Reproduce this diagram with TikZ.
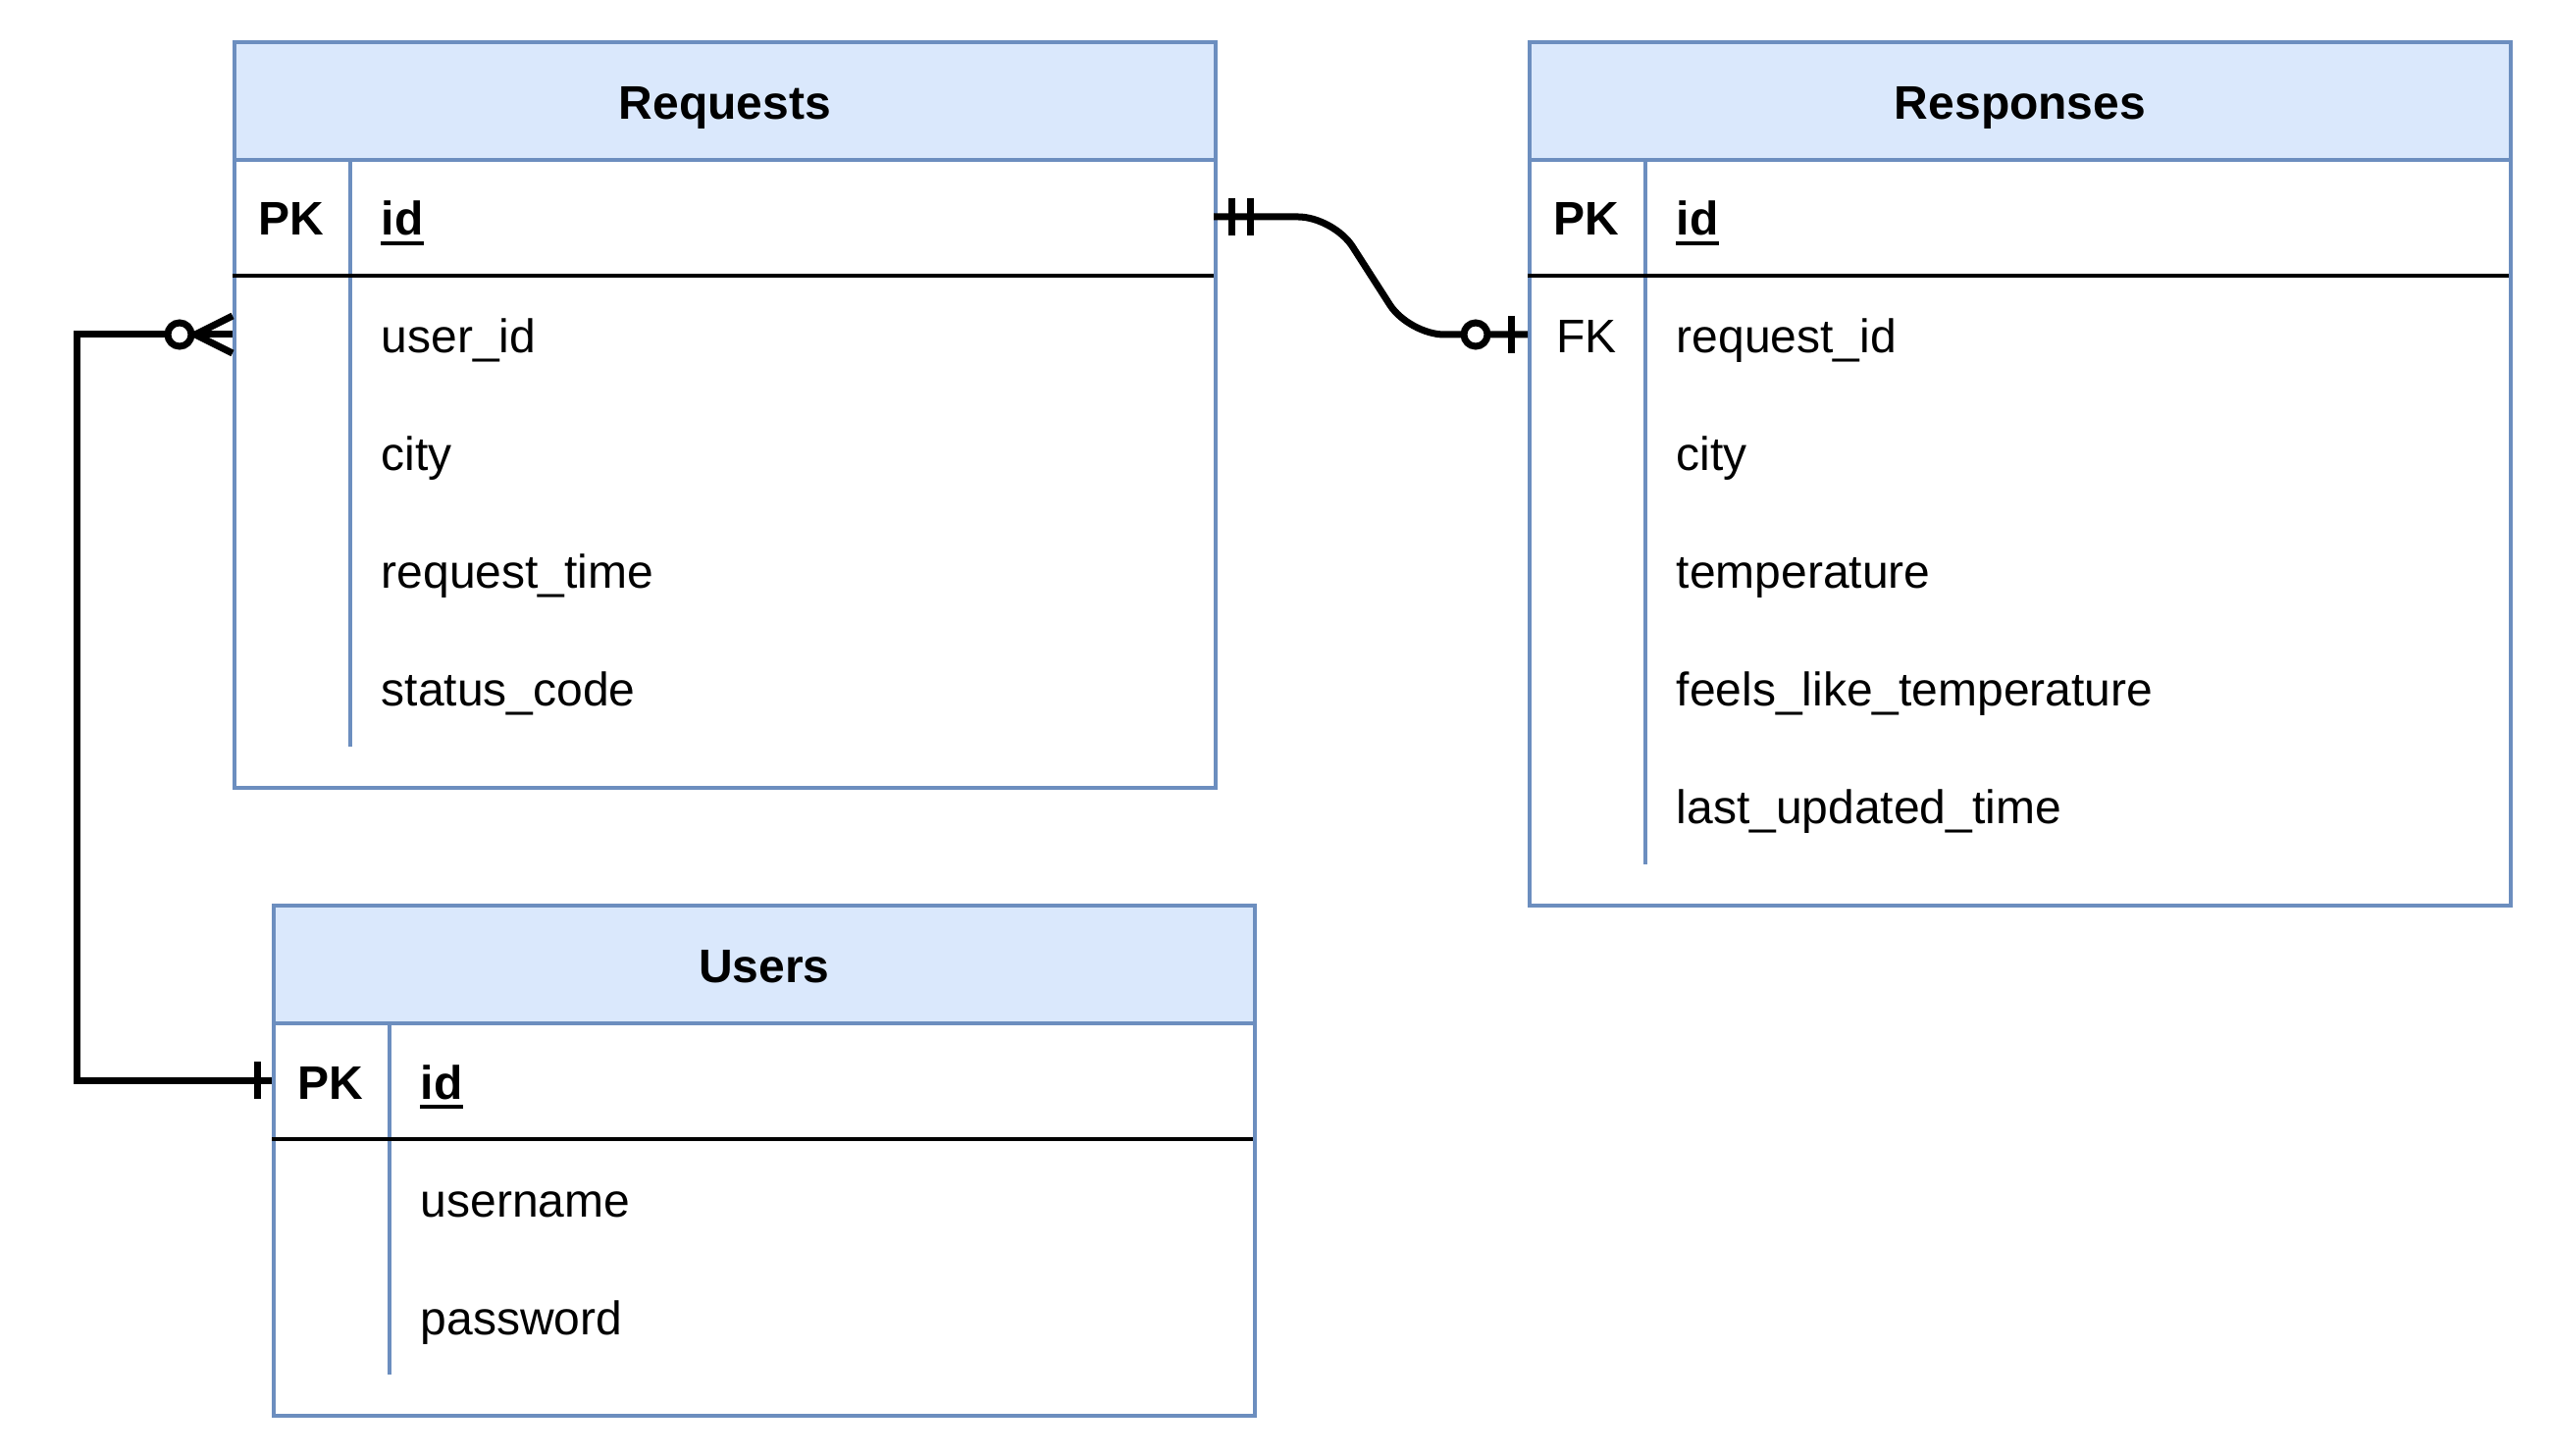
\documentclass[tikz,border=0pt]{standalone}
\usepackage{fontspec}
\setmainfont{Liberation Sans}
\usetikzlibrary{calc}
\definecolor{hdrfill}{HTML}{DAE8FC}
\definecolor{hdrline}{HTML}{6C8EBF}
\begin{document}
\begin{tikzpicture}[x=0.25pt,y=-0.25pt,
  tbl/.style={draw=hdrline, line width=1pt, anchor=north west, minimum width=250pt, inner sep=0pt},
  hdr/.style={draw=hdrline, fill=hdrfill, line width=1pt, anchor=north west, minimum width=250pt, minimum height=30pt, inner sep=0pt, text height=9.5pt, text depth=0pt, font=\bfseries\fontsize{12pt}{14pt}\selectfont},
  rowbox/.style={anchor=north west, minimum width=250pt, minimum height=30pt, inner sep=0pt, outer sep=0pt},
  keytxt/.style={anchor=base, inner sep=0pt, font=\fontsize{12pt}{14pt}\selectfont},
  pktxt/.style={keytxt, font=\bfseries\fontsize{12pt}{14pt}\selectfont},
  fldtxt/.style={anchor=base west, inner sep=0pt, font=\fontsize{12pt}{14pt}\selectfont},
  pkfld/.style={fldtxt, font=\bfseries\fontsize{12pt}{14pt}\selectfont},
  uline/.style={draw=black, line width=1pt},
  divider/.style={draw=hdrline, line width=0.8pt},
  sepline/.style={draw=black, line width=1.1pt},
  conn/.style={draw=black, line width=1.75pt},
  endbar/.style={draw=black, line width=1.75pt},
  ringmark/.style={draw=black, fill=white, line width=1.75pt}
]
\useasboundingbox (0,0) rectangle (2600,1484);

% ---------- Requests ----------
\node[tbl, minimum height=190pt] (reqT) at (237,41) {};
\node[hdr] (reqH) at (237,41) {Requests};
\node[rowbox] (req-0) at (237,161) {};
\node[rowbox] (req-1) at (237,281) {};
\node[rowbox] (req-2) at (237,401) {};
\node[rowbox] (req-3) at (237,521) {};
\node[rowbox] (req-4) at (237,641) {};
\draw[divider] ($(reqH.south west)+(120,0)$) -- ($(req-4.south west)+(120,0)$);
\draw[sepline] (req-0.south west) -- (req-0.south east);
\node[pktxt] (req-0k) at ($(req-0.west)+(60,19)$) {PK};
\node[pkfld] (req-0f) at ($(req-0.west)+(151,19)$) {id};
\draw[uline] ($(req-0f.base west)+(0,8)$) -- ($(req-0f.base east)+(0,8)$);
\node[fldtxt] (req-1f) at ($(req-1.west)+(151,19)$) {user\_id};
\node[fldtxt] (req-2f) at ($(req-2.west)+(151,19)$) {city};
\node[fldtxt] (req-3f) at ($(req-3.west)+(151,19)$) {request\_time};
\node[fldtxt] (req-4f) at ($(req-4.west)+(151,19)$) {status\_code};

% ---------- Responses ----------
\node[tbl, minimum height=220pt] (resT) at (1557,41) {};
\node[hdr] (resH) at (1557,41) {Responses};
\node[rowbox] (res-0) at (1557,161) {};
\node[rowbox] (res-1) at (1557,281) {};
\node[rowbox] (res-2) at (1557,401) {};
\node[rowbox] (res-3) at (1557,521) {};
\node[rowbox] (res-4) at (1557,641) {};
\node[rowbox] (res-5) at (1557,761) {};
\draw[divider] ($(resH.south west)+(120,0)$) -- ($(res-5.south west)+(120,0)$);
\draw[sepline] (res-0.south west) -- (res-0.south east);
\node[pktxt] (res-0k) at ($(res-0.west)+(60,19)$) {PK};
\node[pkfld] (res-0f) at ($(res-0.west)+(151,19)$) {id};
\draw[uline] ($(res-0f.base west)+(0,8)$) -- ($(res-0f.base east)+(0,8)$);
\node[keytxt] (res-1k) at ($(res-1.west)+(60,19)$) {FK};
\node[fldtxt] (res-1f) at ($(res-1.west)+(151,19)$) {request\_id};
\node[fldtxt] (res-2f) at ($(res-2.west)+(151,19)$) {city};
\node[fldtxt] (res-3f) at ($(res-3.west)+(151,19)$) {temperature};
\node[fldtxt] (res-4f) at ($(res-4.west)+(151,19)$) {feels\_like\_temperature};
\node[fldtxt] (res-5f) at ($(res-5.west)+(151,19)$) {last\_updated\_time};

% ---------- Users ----------
\node[tbl, minimum height=130pt] (usrT) at (277,921) {};
\node[hdr] (usrH) at (277,921) {Users};
\node[rowbox] (usr-0) at (277,1041) {};
\node[rowbox] (usr-1) at (277,1161) {};
\node[rowbox] (usr-2) at (277,1281) {};
\draw[divider] ($(usrH.south west)+(120,0)$) -- ($(usr-2.south west)+(120,0)$);
\draw[sepline] (usr-0.south west) -- (usr-0.south east);
\node[pktxt] (usr-0k) at ($(usr-0.west)+(60,19)$) {PK};
\node[pkfld] (usr-0f) at ($(usr-0.west)+(151,19)$) {id};
\draw[uline] ($(usr-0f.base west)+(0,8)$) -- ($(usr-0f.base east)+(0,8)$);
\node[fldtxt] (usr-1f) at ($(usr-1.west)+(151,19)$) {username};
\node[fldtxt] (usr-2f) at ($(usr-2.west)+(151,19)$) {password};

% ---------- Requests.id  ->  Responses.request_id ----------
\draw[conn, rounded corners=9pt] (req-0.east) -- ++(122,0) -- ($(res-1.west)+(-121,0)$) -- (res-1.west);
\draw[endbar] ($(req-0.east)+(18,-19)$) -- ($(req-0.east)+(18,19)$);
\draw[endbar] ($(req-0.east)+(37,-19)$) -- ($(req-0.east)+(37,19)$);
\draw[endbar] ($(res-1.west)+(-17,-19)$) -- ($(res-1.west)+(-17,19)$);
\draw[ringmark] ($(res-1.west)+(-53,0)$) circle[radius=3pt];

% ---------- Users.id  ->  Requests.user_id ----------
\draw[conn] (usr-0.west) -- ++(-199,0) |- (req-1.west);
\draw[endbar] ($(usr-0.west)+(-15,-19)$) -- ($(usr-0.west)+(-15,19)$);
\draw[endbar] ($(req-1.west)+(0,-19)$) -- ($(req-1.west)+(-38,0)$) -- ($(req-1.west)+(0,19)$);
\draw[ringmark] ($(req-1.west)+(-54,0)$) circle[radius=3pt];
\end{tikzpicture}
\end{document}
